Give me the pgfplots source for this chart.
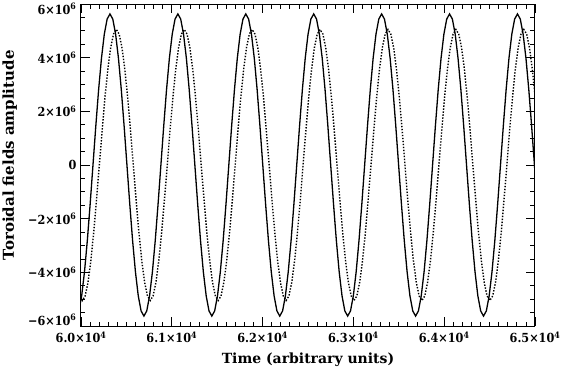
\documentclass[border=0pt]{standalone}
\usepackage{fontspec}
\setmainfont{DejaVu Serif}
\newfontfamily\condfont{DejaVu Serif Condensed}
\usepackage{pgfplots}
\usepackage{pgfplotstable}
\pgfplotsset{compat=1.18}

% t = time, s = solid field (1e6), td/d = dotted field (1e6)
\pgfplotstableread{
t s td d
59882.7 -4.876 59952.7 -4.373
59913.8 -5.438 59983.8 -4.878
59945.0 -5.630 60015.0 -5.050
59976.2 -5.438 60046.2 -4.878
60007.3 -4.876 60077.3 -4.373
60038.5 -3.981 60108.5 -3.571
60069.7 -2.815 60139.7 -2.525
60100.8 -1.457 60170.8 -1.307
60132.0 0 60202.0 0
60163.2 1.457 60233.2 1.307
60194.3 2.815 60264.3 2.525
60225.5 3.981 60295.5 3.571
60256.7 4.876 60326.7 4.373
60287.8 5.438 60357.8 4.878
60319.0 5.630 60389.0 5.050
60350.2 5.438 60420.2 4.878
60381.3 4.876 60451.3 4.373
60412.5 3.981 60482.5 3.571
60443.7 2.815 60513.7 2.525
60474.8 1.457 60544.8 1.307
60506.0 0 60576.0 0
60537.2 -1.457 60607.2 -1.307
60568.3 -2.815 60638.3 -2.525
60599.5 -3.981 60669.5 -3.571
60630.7 -4.876 60700.7 -4.373
60661.8 -5.438 60731.8 -4.878
60693.0 -5.630 60763.0 -5.050
60724.2 -5.438 60794.2 -4.878
60755.3 -4.876 60825.3 -4.373
60786.5 -3.981 60856.5 -3.571
60817.7 -2.815 60887.7 -2.525
60848.8 -1.457 60918.8 -1.307
60880.0 0 60950.0 0
60911.2 1.457 60981.2 1.307
60942.3 2.815 61012.3 2.525
60973.5 3.981 61043.5 3.571
61004.7 4.876 61074.7 4.373
61035.8 5.438 61105.8 4.878
61067.0 5.630 61137.0 5.050
61098.2 5.438 61168.2 4.878
61129.3 4.876 61199.3 4.373
61160.5 3.981 61230.5 3.571
61191.7 2.815 61261.7 2.525
61222.8 1.457 61292.8 1.307
61254.0 0 61324.0 0
61285.2 -1.457 61355.2 -1.307
61316.3 -2.815 61386.3 -2.525
61347.5 -3.981 61417.5 -3.571
61378.7 -4.876 61448.7 -4.373
61409.8 -5.438 61479.8 -4.878
61441.0 -5.630 61511.0 -5.050
61472.2 -5.438 61542.2 -4.878
61503.3 -4.876 61573.3 -4.373
61534.5 -3.981 61604.5 -3.571
61565.7 -2.815 61635.7 -2.525
61596.8 -1.457 61666.8 -1.307
61628.0 0 61698.0 0
61659.2 1.457 61729.2 1.307
61690.3 2.815 61760.3 2.525
61721.5 3.981 61791.5 3.571
61752.7 4.876 61822.7 4.373
61783.8 5.438 61853.8 4.878
61815.0 5.630 61885.0 5.050
61846.2 5.438 61916.2 4.878
61877.3 4.876 61947.3 4.373
61908.5 3.981 61978.5 3.571
61939.7 2.815 62009.7 2.525
61970.8 1.457 62040.8 1.307
62002.0 0 62072.0 0
62033.2 -1.457 62103.2 -1.307
62064.3 -2.815 62134.3 -2.525
62095.5 -3.981 62165.5 -3.571
62126.7 -4.876 62196.7 -4.373
62157.8 -5.438 62227.8 -4.878
62189.0 -5.630 62259.0 -5.050
62220.2 -5.438 62290.2 -4.878
62251.3 -4.876 62321.3 -4.373
62282.5 -3.981 62352.5 -3.571
62313.7 -2.815 62383.7 -2.525
62344.8 -1.457 62414.8 -1.307
62376.0 0 62446.0 0
62407.2 1.457 62477.2 1.307
62438.3 2.815 62508.3 2.525
62469.5 3.981 62539.5 3.571
62500.7 4.876 62570.7 4.373
62531.8 5.438 62601.8 4.878
62563.0 5.630 62633.0 5.050
62594.2 5.438 62664.2 4.878
62625.3 4.876 62695.3 4.373
62656.5 3.981 62726.5 3.571
62687.7 2.815 62757.7 2.525
62718.8 1.457 62788.8 1.307
62750.0 0 62820.0 0
62781.2 -1.457 62851.2 -1.307
62812.3 -2.815 62882.3 -2.525
62843.5 -3.981 62913.5 -3.571
62874.7 -4.876 62944.7 -4.373
62905.8 -5.438 62975.8 -4.878
62937.0 -5.630 63007.0 -5.050
62968.2 -5.438 63038.2 -4.878
62999.3 -4.876 63069.3 -4.373
63030.5 -3.981 63100.5 -3.571
63061.7 -2.815 63131.7 -2.525
63092.8 -1.457 63162.8 -1.307
63124.0 0 63194.0 0
63155.2 1.457 63225.2 1.307
63186.3 2.815 63256.3 2.525
63217.5 3.981 63287.5 3.571
63248.7 4.876 63318.7 4.373
63279.8 5.438 63349.8 4.878
63311.0 5.630 63381.0 5.050
63342.2 5.438 63412.2 4.878
63373.3 4.876 63443.3 4.373
63404.5 3.981 63474.5 3.571
63435.7 2.815 63505.7 2.525
63466.8 1.457 63536.8 1.307
63498.0 0 63568.0 0
63529.2 -1.457 63599.2 -1.307
63560.3 -2.815 63630.3 -2.525
63591.5 -3.981 63661.5 -3.571
63622.7 -4.876 63692.7 -4.373
63653.8 -5.438 63723.8 -4.878
63685.0 -5.630 63755.0 -5.050
63716.2 -5.438 63786.2 -4.878
63747.3 -4.876 63817.3 -4.373
63778.5 -3.981 63848.5 -3.571
63809.7 -2.815 63879.7 -2.525
63840.8 -1.457 63910.8 -1.307
63872.0 0 63942.0 0
63903.2 1.457 63973.2 1.307
63934.3 2.815 64004.3 2.525
63965.5 3.981 64035.5 3.571
63996.7 4.876 64066.7 4.373
64027.8 5.438 64097.8 4.878
64059.0 5.630 64129.0 5.050
64090.2 5.438 64160.2 4.878
64121.3 4.876 64191.3 4.373
64152.5 3.981 64222.5 3.571
64183.7 2.815 64253.7 2.525
64214.8 1.457 64284.8 1.307
64246.0 0 64316.0 0
64277.2 -1.457 64347.2 -1.307
64308.3 -2.815 64378.3 -2.525
64339.5 -3.981 64409.5 -3.571
64370.7 -4.876 64440.7 -4.373
64401.8 -5.438 64471.8 -4.878
64433.0 -5.630 64503.0 -5.050
64464.2 -5.438 64534.2 -4.878
64495.3 -4.876 64565.3 -4.373
64526.5 -3.981 64596.5 -3.571
64557.7 -2.815 64627.7 -2.525
64588.8 -1.457 64658.8 -1.307
64620.0 0 64690.0 0
64651.2 1.457 64721.2 1.307
64682.3 2.815 64752.3 2.525
64713.5 3.981 64783.5 3.571
64744.7 4.876 64814.7 4.373
64775.8 5.438 64845.8 4.878
64807.0 5.630 64877.0 5.050
64838.2 5.438 64908.2 4.878
64869.3 4.876 64939.3 4.373
64900.5 3.981 64970.5 3.571
64931.7 2.815 65001.7 2.525
64962.8 1.457 65032.8 1.307
64994.0 0 65064.0 0
65025.2 -1.457 65095.2 -1.307
}\fields

\begin{document}
\begin{tikzpicture}
\useasboundingbox (-81pt,-42pt) rectangle (482pt,326pt);
\begin{axis}[
  scale only axis, width=454pt, height=322pt,
  xmin=60000, xmax=65000, ymin=-6, ymax=6,
  font=\bfseries,
  axis line style={line width=1pt},
  tick style={line width=0.8pt, black},
  major tick length=9pt, minor tick length=4.5pt,
  xtick={60000,61000,62000,63000,64000,65000},
  xticklabels={6.0×10\textsuperscript{4},6.1×10\textsuperscript{4},6.2×10\textsuperscript{4},6.3×10\textsuperscript{4},6.4×10\textsuperscript{4},6.5×10\textsuperscript{4}},
  ytick={-6,-4,-2,0,2,4,6},
  yticklabels={\raisebox{6pt}[\height][\depth]{−6×10\textsuperscript{6}},−4×10\textsuperscript{6},−2×10\textsuperscript{6},0,2×10\textsuperscript{6},4×10\textsuperscript{6},\raisebox{-5pt}[\height][\depth]{6×10\textsuperscript{6}}},
  minor x tick num=9, minor y tick num=3,
  scaled x ticks=false,
  ticklabel style={font=\condfont\bfseries\fontsize{12.5}{14}\selectfont},
  xticklabel style={yshift=-2pt},
  yticklabel style={xshift=-1pt},
  xlabel={Time (arbitrary units)},
  ylabel={Toroidal fields amplitude},
  xlabel style={font=\bfseries\fontsize{14}{16}\selectfont, at={(axis description cs:0.5,-0.118)}, anchor=base},
  ylabel style={font=\bfseries\fontsize{15}{17}\selectfont, at={(axis description cs:-0.157,0.53)}, anchor=center},
]
\addplot[black, line width=1.3pt] table[x=t, y=s] {\fields};
\addplot[black, line width=1.4pt, dash pattern=on 1.4pt off 1.6pt] table[x=td, y=d] {\fields};
\end{axis}
\end{tikzpicture}
\end{document}
